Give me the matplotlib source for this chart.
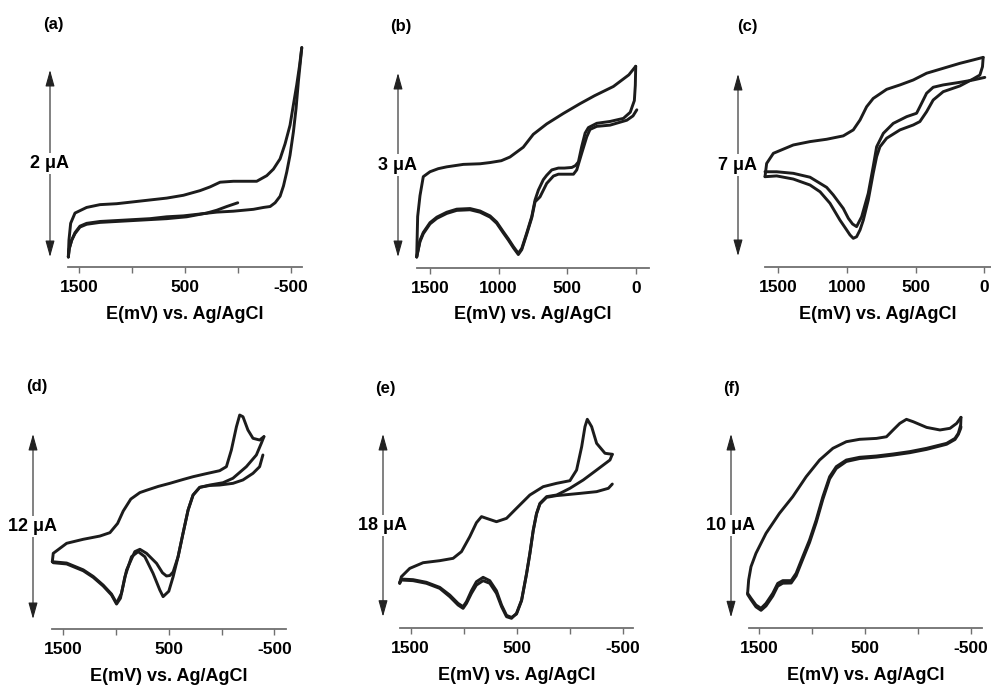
import matplotlib
matplotlib.use("Agg")
import matplotlib.pyplot as plt

plt.rcParams['font.family'] = ['Liberation Sans', 'DejaVu Sans']
plt.rcParams['font.weight'] = 'bold'

W, H = 991, 685

# ---------------- data (E in mV vs Ag/AgCl, I in uA relative) ----------------
panel_labels = ['(a)', '(b)', '(c)', '(d)', '(e)', '(f)']
scale_uA = [2, 3, 7, 12, 18, 10]
xlabel = 'E(mV) vs. Ag/AgCl'

# (a)
a_up_E = [1601, 1595, 1579, 1538, 1428, 1302, 1144, 986, 829, 671, 514, 356, 261, 167, 41, -85,
          -179, -274, -337, -400, -447, -494, -526, -557, -583, -605]
a_up_I = [0.00, 0.18, 0.36, 0.47, 0.53, 0.56, 0.57, 0.59, 0.61, 0.63, 0.66, 0.71, 0.75, 0.80, 0.81, 0.81,
          0.81, 0.87, 0.94, 1.05, 1.21, 1.41, 1.63, 1.84, 2.04, 2.24]
a_lo1_E = [0, 104, 199, 293, 388, 482, 671, 986, 1302, 1428, 1491, 1538, 1569, 1592, 1601]
a_lo1_I = [0.58, 0.54, 0.50, 0.47, 0.45, 0.43, 0.41, 0.39, 0.37, 0.35, 0.32, 0.25, 0.18, 0.09, 0.00]
a_lo2_E = [-605, -589, -573, -551, -526, -494, -463, -432, -400, -353, -306, -243, -148, 41, 199, 356,
           514, 671, 829, 986, 1144, 1302, 1428, 1491, 1538, 1569, 1592, 1601]
a_lo2_I = [2.24, 2.06, 1.88, 1.59, 1.34, 1.09, 0.91, 0.76, 0.65, 0.58, 0.54, 0.53, 0.51, 0.49, 0.48, 0.46,
           0.44, 0.43, 0.41, 0.40, 0.39, 0.38, 0.36, 0.33, 0.26, 0.18, 0.09, 0.00]

# (b)
b_up_E = [1597, 1590, 1573, 1549, 1500, 1440, 1378, 1257, 1135, 1062, 980, 917, 820, 747, 649, 528,
          406, 300, 163, 50, 0]
b_up_I = [0.00, 0.66, 1.00, 1.31, 1.39, 1.44, 1.47, 1.51, 1.52, 1.54, 1.57, 1.63, 1.79, 2.00, 2.17, 2.34,
          2.50, 2.63, 2.78, 2.97, 3.11]
b_lo1_E = [-8, 20, 65, 187, 284, 333, 357, 394, 430, 454, 520, 564, 600, 649, 698, 734, 758, 795, 831,
           856, 892, 930, 965, 1014, 1062, 1135, 1208, 1305, 1378, 1450, 1500, 1549, 1573, 1597]
b_lo1_I = [2.40, 2.30, 2.23, 2.15, 2.13, 2.08, 1.96, 1.69, 1.42, 1.35, 1.35, 1.35, 1.32, 1.20, 0.98,
           0.90, 0.64, 0.37, 0.12, 0.04, 0.15, 0.28, 0.39, 0.55, 0.65, 0.73, 0.77, 0.76, 0.71, 0.63,
           0.54, 0.38, 0.25, 0.00]
b_lo2_E = [0, 3, 10, 40, 90, 187, 284, 345, 369, 394, 418, 440, 466, 520, 564, 612, 650, 674, 710, 734,
           758, 795, 831, 856, 892, 930, 965, 1014, 1062, 1135, 1208, 1305, 1378, 1450, 1500, 1549,
           1573, 1597]
b_lo2_I = [3.11, 2.80, 2.55, 2.36, 2.26, 2.21, 2.18, 2.11, 2.02, 1.80, 1.55, 1.49, 1.46, 1.45, 1.45,
           1.42, 1.33, 1.26, 1.09, 0.93, 0.66, 0.39, 0.14, 0.06, 0.17, 0.30, 0.41, 0.57, 0.67, 0.75,
           0.79, 0.78, 0.73, 0.65, 0.56, 0.40, 0.27, 0.00]

# (c)
c_up_E = [1597, 1585, 1536, 1391, 1269, 1148, 1027, 954, 905, 857, 809, 711, 614, 517, 420, 299, 178, 81, 8]
c_up_I = [3.05, 3.56, 3.95, 4.27, 4.40, 4.49, 4.62, 4.85, 5.23, 5.74, 6.06, 6.41, 6.58, 6.77, 7.03,
          7.22, 7.41, 7.54, 7.64]
c_lo1_E = [-4, 81, 178, 299, 372, 420, 469, 493, 565, 663, 735, 784, 809, 845, 893, 930, 959, 990,
           1027, 1100, 1148, 1269, 1391, 1512, 1597]
c_lo1_I = [6.87, 6.77, 6.68, 6.58, 6.49, 6.26, 5.74, 5.49, 5.36, 5.10, 4.72, 4.20, 3.44, 2.41, 1.51,
           1.13, 1.23, 1.45, 1.83, 2.35, 2.64, 3.03, 3.18, 3.24, 3.24]
c_lo2_E = [8, 13, 32, 81, 178, 299, 372, 420, 469, 517, 614, 711, 760, 784, 809, 845, 881, 905, 930,
           954, 978, 1002, 1051, 1124, 1196, 1269, 1391, 1512, 1597]
c_lo2_I = [7.64, 7.28, 6.96, 6.81, 6.54, 6.32, 6.00, 5.55, 5.17, 5.04, 4.85, 4.53, 4.20, 3.82, 3.18,
           2.15, 1.38, 1.00, 0.74, 0.68, 0.81, 1.00, 1.38, 2.03, 2.47, 2.73, 2.96, 3.08, 3.05]

# (d)
d_up_E = [1604, 1595, 1468, 1311, 1153, 1058, 985, 932, 860, 774, 711, 600, 490, 365, 270, 150, 18,
          -46, -93, -141, -172, -203, -250, -298, -361, -402]
d_up_I = [3.72, 4.26, 4.91, 5.17, 5.38, 5.60, 6.20, 7.00, 7.78, 8.20, 8.35, 8.60, 8.80, 9.05, 9.23,
          9.42, 9.62, 9.88, 10.96, 12.47, 13.23, 13.12, 12.26, 11.72, 11.61, 11.83]
d_lo1_E = [-392, -361, -298, -203, -108, 18, 112, 207, 270, 317, 365, 412, 459, 490, 522, 560, 616, 711,
           774, 822, 900, 948, 995, 1043, 1122, 1216, 1311, 1468, 1595, 1604]
d_lo1_I = [10.64, 9.88, 9.45, 9.02, 8.80, 8.69, 8.66, 8.54, 8.04, 7.07, 5.56, 4.04, 3.05, 2.82, 2.79,
           3.00, 3.61, 4.26, 4.52, 4.37, 3.18, 1.67, 1.03, 1.62, 2.20, 2.76, 3.19, 3.63, 3.71, 3.72]
d_lo2_E = [-402, -377, -330, -235, -108, -14, 112, 207, 270, 317, 365, 412, 459, 500, 554, 585, 649,
           727, 790, 853, 916, 958, 995, 1043, 1122, 1216, 1311, 1468, 1595, 1604]
d_lo2_I = [11.83, 11.40, 10.64, 9.88, 9.13, 8.84, 8.69, 8.54, 8.04, 7.07, 5.56, 4.04, 2.74, 1.80,
           1.45, 1.88, 2.96, 4.04, 4.37, 4.04, 2.74, 1.35, 0.97, 1.56, 2.14, 2.70, 3.13, 3.57, 3.65, 3.72]

# (e)
e_up_E = [1604, 1588, 1509, 1383, 1226, 1100, 1021, 943, 880, 832, 785, 691, 596, 502, 376, 250, 124,
          -2, -65, -113, -144, -166, -207, -254, -333, -402]
e_up_I = [3.29, 3.94, 4.76, 5.32, 5.52, 5.75, 6.41, 7.88, 9.26, 9.86, 9.69, 9.36, 9.69, 10.68, 11.99,
          12.81, 13.14, 13.40, 14.45, 16.75, 18.72, 19.45, 18.72, 17.08, 16.10, 16.00]
e_lo1_E = [-402, -365, -254, -97, 61, 124, 218, 281, 313, 344, 376, 407, 454, 502, 549, 596, 643, 691,
           754, 817, 880, 927, 974, 1006, 1053, 1131, 1226, 1352, 1478, 1588, 1604]
e_lo1_I = [13.07, 12.65, 12.32, 12.15, 11.99, 11.93, 11.76, 11.10, 10.12, 8.48, 6.18, 4.20, 1.58,
           0.26, -0.07, 0.13, 1.15, 2.56, 3.55, 3.88, 3.45, 2.56, 1.48, 0.99, 1.31, 2.13, 2.89, 3.39,
           3.65, 3.71, 3.39]
e_lo2_E = [-402, -380, -254, -128, -2, 92, 124, 218, 281, 313, 344, 376, 407, 454, 502, 549, 596, 643,
           691, 754, 817, 880, 927, 974, 1006, 1053, 1131, 1226, 1352, 1478, 1588, 1604]
e_lo2_I = [16.00, 15.44, 14.45, 13.47, 12.65, 12.15, 11.99, 11.83, 11.17, 10.18, 8.54, 6.24, 4.27,
           1.64, 0.33, -0.16, 0.00, 0.99, 2.30, 3.29, 3.55, 3.12, 2.30, 1.31, 0.82, 1.15, 1.97, 2.79,
           3.29, 3.55, 3.61, 3.29]

# (f)
f_up_E = [1611, 1601, 1579, 1532, 1437, 1310, 1184, 1057, 930, 804, 677, 551, 392, 297, 234, 171, 108,
          44, -83, -209, -304, -367, -408]
f_up_I = [1.31, 2.04, 2.76, 3.49, 4.58, 5.67, 6.58, 7.67, 8.58, 9.22, 9.58, 9.71, 9.76, 9.85, 10.22,
          10.58, 10.80, 10.67, 10.36, 10.22, 10.31, 10.58, 10.91]
f_lo_E = [-408, -405, -383, -351, -272, -83, 76, 234, 392, 551, 677, 772, 835, 899, 962, 1025, 1089,
          1152, 1199, 1278, 1326, 1373, 1437, 1484, 1532, 1579, 1611]
f_lo1_I = [10.91, 10.49, 10.04, 9.76, 9.49, 9.22, 9.04, 8.91, 8.80, 8.73, 8.58, 8.22, 7.67, 6.58, 5.31,
           4.22, 3.31, 2.40, 2.00, 2.00, 1.85, 1.31, 0.76, 0.49, 0.67, 1.04, 1.31]
f_lo2_I = [10.40, 10.30, 9.98, 9.70, 9.44, 9.16, 8.98, 8.85, 8.74, 8.66, 8.50, 8.12, 7.55, 6.44, 5.17,
           4.08, 3.17, 2.26, 1.87, 1.86, 1.70, 1.16, 0.62, 0.38, 0.57, 0.96, 1.25]

curves = [
    [(a_up_E, a_up_I), (a_lo1_E, a_lo1_I), (a_lo2_E, a_lo2_I)],
    [(b_up_E, b_up_I), (b_lo1_E, b_lo1_I), (b_lo2_E, b_lo2_I)],
    [(c_up_E, c_up_I), (c_lo1_E, c_lo1_I), (c_lo2_E, c_lo2_I)],
    [(d_up_E, d_up_I), (d_lo1_E, d_lo1_I), (d_lo2_E, d_lo2_I)],
    [(e_up_E, e_up_I), (e_lo1_E, e_lo1_I), (e_lo2_E, e_lo2_I)],
    [(f_up_E, f_up_I), (f_lo_E, f_lo1_I), (f_lo_E, f_lo2_I)],
]

ticks_wide = [1500, 1000, 500, 0, -500]
ticklabels_wide = ['1500', '', '500', '', '-500']
ticks_narrow = [1500, 1000, 500, 0]
ticklabels_narrow = ['1500', '1000', '500', '0']

# ---------------- layout (pixels) ----------------
ax_px = [
    (68, 302, 267, 20), (416.7, 649.3, 267.7, 20), (765, 991, 267, 20),
    (52.3, 285.7, 629, 380), (400, 633.3, 628.3, 380), (749.3, 981.7, 628.3, 380),
]
xlims = [(1604, -607), (1597, -99), (1597, -49), (1604, -608), (1601, -600), (1595, -604)]
arrow_px = [
    (50, 257, 70), (398, 257, 73), (738, 256, 74),
    (33, 619, 434), (383, 616.7, 434), (731, 617.3, 434),
]
label_px = [(53, 24), (401, 26), (747, 26), (37, 386), (385, 388), (731, 388)]
wide = [True, False, False, True, True, True]

fig = plt.figure(figsize=(W / 100, H / 100), dpi=100)
fig.patch.set_facecolor('white')

for k in range(6):
    l, r, b, t = ax_px[k]
    ax = fig.add_axes([l / W, 1 - b / H, (r - l) / W, (b - t) / H])
    ax.set_facecolor('none')
    xa, yb, yt = arrow_px[k]
    L = yb - yt
    s = scale_uA[k]
    ax.set_ylim(-(b - yb) * s / L, (yb - t) * s / L)
    ax.set_xlim(*xlims[k])
    for E, I in curves[k]:
        ax.plot(E, I, color='#1c1c1c', lw=2.1, solid_joinstyle='round', solid_capstyle='round',
                clip_on=False)
    for sp in ['top', 'left', 'right']:
        ax.spines[sp].set_visible(False)
    ax.spines['bottom'].set_color('#707070')
    ax.spines['bottom'].set_linewidth(1.3)
    ax.set_yticks([])
    if wide[k]:
        ax.set_xticks(ticks_wide)
        ax.set_xticklabels(ticklabels_wide)
    else:
        ax.set_xticks(ticks_narrow)
        ax.set_xticklabels(ticklabels_narrow)
    ax.tick_params(axis='x', direction='out', length=4.5, width=1.0, color='#707070',
                   labelsize=12.5, pad=5)
    for lab in ax.get_xticklabels():
        lab.set_fontweight('bold')
    ax.set_xlabel(xlabel, fontsize=13, fontweight='bold', labelpad=7.5)

    # scale arrow
    xf = (xa - l) / (r - l)
    tr = ax.get_yaxis_transform()
    ax.annotate('', xy=(xf, s), xytext=(xf, 0), xycoords=tr, textcoords=tr,
                arrowprops=dict(arrowstyle='<|-|>,head_length=0.5,head_width=0.14',
                                lw=0.8, color='#222222', shrinkA=0, shrinkB=0,
                                mutation_scale=20),
                annotation_clip=False)
    ax.text(xf, s / 2, f'{s} \u03bcA', transform=tr, ha='center', va='center',
            fontsize=13, fontweight='bold', clip_on=False,
            bbox=dict(facecolor='white', edgecolor='none', pad=1.5))

    lx, ly = label_px[k]
    fig.text(lx / W, 1 - ly / H, panel_labels[k], ha='center', va='center',
             fontsize=12, fontweight='bold')

fig.savefig('out.png', dpi=100, facecolor='white')
